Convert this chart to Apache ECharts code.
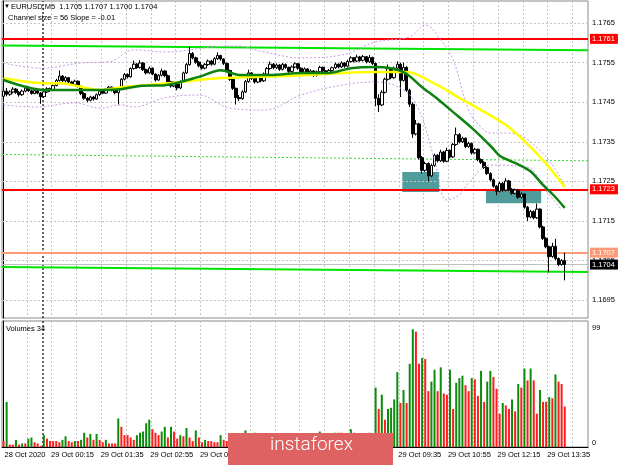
<!DOCTYPE html>
<html><head><meta charset="utf-8">
<script src="https://cdn.jsdelivr.net/npm/echarts@6/dist/echarts.min.js"></script>
<style>html,body{margin:0;padding:0;background:#fff}#c{width:620px;height:465px}</style>
</head><body><div id="c"></div>
<script>
// ---------- DATA ----------
const symbolTitle = 'EURUSD,M5';
const headerOHLC = '1.1705 1.1707 1.1700 1.1704';
const channelText = 'Channel size = 56 Slope = -0.01';
const volumeTitle = 'Volumes 34';
const firstBarUTC = Date.UTC(2020, 9, 28, 23, 0); // 28 Oct 2020 23:00, M5 bars
const emptyBarsRight = 7;
// [open, close, low, high]
const candles = [
[1.17465,1.17478,1.17452,1.17485],[1.17478,1.17470,1.17465,1.17486],[1.17470,1.17476,1.17466,1.17480],[1.17476,1.17483,1.17472,1.17488],
[1.17483,1.17475,1.17471,1.17486],[1.17475,1.17469,1.17464,1.17478],[1.17469,1.17478,1.17466,1.17482],[1.17478,1.17486,1.17475,1.17490],
[1.17486,1.17479,1.17476,1.17489],[1.17479,1.17472,1.17469,1.17482],[1.17472,1.17479,1.17470,1.17483],[1.17479,1.17473,1.17470,1.17481],
[1.17473,1.17464,1.17446,1.17476],[1.17464,1.17476,1.17461,1.17480],[1.17476,1.17484,1.17473,1.17488],[1.17484,1.17480,1.17476,1.17487],
[1.17480,1.17492,1.17478,1.17495],[1.17492,1.17505,1.17490,1.17509],[1.17505,1.17516,1.17502,1.17530],[1.17516,1.17504,1.17501,1.17519],
[1.17504,1.17512,1.17500,1.17516],[1.17512,1.17501,1.17498,1.17514],[1.17501,1.17495,1.17491,1.17504],[1.17495,1.17503,1.17492,1.17507],
[1.17503,1.17490,1.17487,1.17505],[1.17490,1.17472,1.17468,1.17492],[1.17472,1.17460,1.17456,1.17475],[1.17460,1.17455,1.17450,1.17463],
[1.17455,1.17463,1.17452,1.17466],[1.17463,1.17458,1.17454,1.17466],[1.17458,1.17469,1.17456,1.17472],[1.17469,1.17478,1.17466,1.17481],
[1.17478,1.17473,1.17470,1.17480],[1.17473,1.17483,1.17471,1.17486],[1.17483,1.17488,1.17480,1.17491],[1.17488,1.17480,1.17477,1.17490],
[1.17480,1.17474,1.17470,1.17482],[1.17474,1.17485,1.17444,1.17488],[1.17485,1.17508,1.17483,1.17511],[1.17508,1.17520,1.17505,1.17524],
[1.17520,1.17514,1.17510,1.17523],[1.17514,1.17535,1.17512,1.17538],[1.17535,1.17546,1.17532,1.17555],[1.17546,1.17538,1.17534,1.17549],
[1.17538,1.17549,1.17535,1.17556],[1.17549,1.17532,1.17529,1.17551],[1.17532,1.17524,1.17520,1.17535],[1.17524,1.17536,1.17521,1.17540],
[1.17536,1.17521,1.17518,1.17538],[1.17521,1.17506,1.17502,1.17523],[1.17506,1.17518,1.17504,1.17521],[1.17518,1.17529,1.17515,1.17535],
[1.17529,1.17517,1.17513,1.17531],[1.17517,1.17502,1.17499,1.17520],[1.17502,1.17491,1.17487,1.17504],[1.17491,1.17498,1.17488,1.17502],
[1.17498,1.17486,1.17480,1.17500],[1.17486,1.17502,1.17483,1.17505],[1.17502,1.17524,1.17500,1.17527],[1.17524,1.17545,1.17521,1.17549],
[1.17545,1.17573,1.17542,1.17590],[1.17573,1.17562,1.17558,1.17577],[1.17562,1.17551,1.17547,1.17565],[1.17551,1.17542,1.17538,1.17554],
[1.17542,1.17536,1.17532,1.17545],[1.17536,1.17545,1.17533,1.17549],[1.17545,1.17554,1.17542,1.17558],[1.17554,1.17546,1.17542,1.17557],
[1.17546,1.17560,1.17543,1.17564],[1.17560,1.17568,1.17557,1.17576],[1.17568,1.17559,1.17555,1.17570],[1.17559,1.17548,1.17544,1.17561],
[1.17548,1.17530,1.17526,1.17550],[1.17530,1.17508,1.17504,1.17532],[1.17508,1.17485,1.17481,1.17510],[1.17485,1.17462,1.17444,1.17487],
[1.17462,1.17459,1.17453,1.17468],[1.17459,1.17476,1.17456,1.17480],[1.17476,1.17502,1.17473,1.17506],[1.17502,1.17524,1.17499,1.17532],
[1.17524,1.17510,1.17506,1.17526],[1.17510,1.17501,1.17497,1.17513],[1.17501,1.17513,1.17498,1.17517],[1.17513,1.17504,1.17500,1.17516],
[1.17504,1.17521,1.17501,1.17525],[1.17521,1.17535,1.17518,1.17539],[1.17535,1.17546,1.17532,1.17553],[1.17546,1.17537,1.17533,1.17549],
[1.17537,1.17544,1.17534,1.17548],[1.17544,1.17533,1.17529,1.17546],[1.17533,1.17545,1.17530,1.17549],[1.17545,1.17538,1.17534,1.17548],
[1.17538,1.17528,1.17524,1.17540],[1.17528,1.17539,1.17525,1.17543],[1.17539,1.17547,1.17536,1.17551],[1.17547,1.17536,1.17532,1.17549],
[1.17536,1.17526,1.17522,1.17538],[1.17526,1.17534,1.17523,1.17538],[1.17534,1.17523,1.17519,1.17536],[1.17523,1.17529,1.17520,1.17533],
[1.17529,1.17518,1.17514,1.17531],[1.17518,1.17527,1.17515,1.17530],[1.17527,1.17538,1.17524,1.17542],[1.17538,1.17529,1.17525,1.17540],
[1.17529,1.17522,1.17518,1.17531],[1.17522,1.17530,1.17519,1.17534],[1.17530,1.17537,1.17527,1.17540],[1.17537,1.17546,1.17534,1.17550],
[1.17546,1.17539,1.17535,1.17548],[1.17539,1.17549,1.17536,1.17553],[1.17549,1.17541,1.17537,1.17551],[1.17541,1.17553,1.17538,1.17557],
[1.17553,1.17562,1.17550,1.17566],[1.17562,1.17554,1.17550,1.17564],[1.17554,1.17564,1.17551,1.17570],[1.17564,1.17556,1.17552,1.17567],
[1.17556,1.17565,1.17553,1.17569],[1.17565,1.17552,1.17548,1.17567],[1.17552,1.17563,1.17549,1.17569],[1.17563,1.17548,1.17544,1.17565],
[1.17548,1.17460,1.17440,1.17550],[1.17460,1.17443,1.17425,1.17470],[1.17443,1.17475,1.17440,1.17480],[1.17475,1.17508,1.17472,1.17512],
[1.17508,1.17535,1.17505,1.17545],[1.17535,1.17512,1.17508,1.17538],[1.17512,1.17536,1.17509,1.17540],[1.17536,1.17546,1.17533,1.17553],
[1.17546,1.17505,1.17463,1.17550],[1.17505,1.17538,1.17502,1.17550],[1.17538,1.17480,1.17476,1.17541],[1.17480,1.17445,1.17438,1.17484],
[1.17445,1.17370,1.17360,1.17450],[1.17370,1.17395,1.17366,1.17405],[1.17395,1.17310,1.17305,1.17398],[1.17310,1.17278,1.17270,1.17314],
[1.17278,1.17295,1.17274,1.17300],[1.17295,1.17264,1.17250,1.17298],[1.17264,1.17290,1.17261,1.17295],[1.17290,1.17316,1.17287,1.17320],
[1.17316,1.17302,1.17298,1.17319],[1.17302,1.17324,1.17299,1.17330],[1.17324,1.17301,1.17297,1.17327],[1.17301,1.17328,1.17298,1.17335],
[1.17328,1.17312,1.17308,1.17331],[1.17312,1.17343,1.17309,1.17347],[1.17343,1.17368,1.17340,1.17386],[1.17368,1.17350,1.17346,1.17372],
[1.17350,1.17359,1.17347,1.17363],[1.17359,1.17338,1.17334,1.17361],[1.17338,1.17346,1.17335,1.17350],[1.17346,1.17322,1.17318,1.17348],
[1.17322,1.17331,1.17319,1.17335],[1.17331,1.17305,1.17301,1.17333],[1.17305,1.17298,1.17294,1.17308],[1.17298,1.17285,1.17281,1.17301],
[1.17285,1.17270,1.17266,1.17288],[1.17270,1.17254,1.17250,1.17273],[1.17254,1.17238,1.17234,1.17257],[1.17238,1.17225,1.17215,1.17241],
[1.17225,1.17245,1.17222,1.17249],[1.17245,1.17228,1.17224,1.17248],[1.17228,1.17251,1.17225,1.17258],[1.17251,1.17230,1.17226,1.17254],
[1.17230,1.17220,1.17216,1.17233],[1.17220,1.17228,1.17217,1.17232],[1.17228,1.17210,1.17206,1.17231],[1.17210,1.17218,1.17207,1.17222],
[1.17218,1.17185,1.17181,1.17220],[1.17185,1.17160,1.17150,1.17188],[1.17160,1.17174,1.17157,1.17178],[1.17174,1.17158,1.17154,1.17177],
[1.17158,1.17180,1.17155,1.17194],[1.17180,1.17135,1.17131,1.17182],[1.17135,1.17106,1.17102,1.17138],[1.17106,1.17085,1.17081,1.17109],
[1.17085,1.17060,1.17020,1.17088],[1.17060,1.17086,1.17057,1.17095],[1.17086,1.17055,1.17051,1.17105],[1.17055,1.17040,1.17036,1.17058],
[1.17040,1.17050,1.17037,1.17054],[1.17050,1.17040,1.17000,1.17070]
];
const volumes = [
5,38,2,2,6,2,3,3,7,8,4,3,1,10,7,5,5,5,4,6,9,5,4,5,5,6,12,8,11,6,11,6,4,6,3,3,3,24,17,10,
10,8,6,10,12,13,20,23,15,12,10,13,17,8,17,13,7,10,9,16,8,5,14,8,4,6,5,5,4,4,10,6,
5,7,4,9,6,8,14,9,7,12,8,6,11,7,9,5,6,8,5,7,4,6,5,8,4,5,7,5,6,4,13,6,5,7,4,12,12,12,11,6,15,12,7,8,5,6,12,9,
50,32,44,23,32,33,40,63,37,48,37,70,99,97,70,75,74,47,55,65,47,67,45,44,65,32,54,58,60,52,47,58,57,43,64,38,55,64,59,49,
28,37,35,32,40,30,53,50,66,56,66,56,28,48,38,38,42,41,61,55,53,34
];
// moving averages (sparse points: [bar index, price])
const maGreen = [[0,1.17506],[13,1.17481],[31,1.17481],[38,1.17483],[44,1.17491],[52,1.17493],[63,1.17514],[70,1.17531],[76,1.17519],[86,1.17519],[96,1.17524],[105,1.17524],[112,1.17536],[120,1.17539],[129,1.17526],[135,1.17488],[140,1.17458],[145,1.17425],[151,1.17385],[157,1.17340],[160,1.17315],[163,1.17303],[166,1.17293],[170,1.17275],[174,1.17241],[178,1.17210],[181,1.17183]];
const maYellow = [[0,1.17511],[13,1.17498],[18,1.17498],[31,1.17481],[38,1.17488],[53,1.17498],[70,1.17511],[83,1.17514],[99,1.17519],[109,1.17524],[120,1.17526],[130,1.17526],[140,1.17493],[147,1.17461],[154,1.17430],[163,1.17387],[173,1.17312],[181,1.17236]];
const bandUpper = [[0,1.17549],[12,1.17536],[25,1.17549],[34,1.17552],[42,1.17582],[52,1.17577],[67,1.17589],[75,1.17592],[84,1.17577],[96,1.17562],[109,1.17569],[120,1.17602],[131,1.17615],[136,1.17645],[141,1.17607],[145,1.17557],[150,1.17430],[154,1.17387],[157,1.17372],[163,1.17372],[173,1.17329],[181,1.17241]];
const bandLower = [[0,1.17443],[10,1.17438],[23,1.17448],[31,1.17435],[38,1.17443],[42,1.17438],[52,1.17461],[63,1.17468],[73,1.17435],[84,1.17430],[96,1.17468],[109,1.17493],[120,1.17501],[129,1.17481],[134,1.17430],[139,1.17304],[143,1.17203],[147,1.17216],[150,1.17246],[157,1.17291],[169,1.17286],[174,1.17236],[180,1.17178]];
// regression channel (start / end of chart)
const channelUpper = [1.17593, 1.17581];
const channelMiddle = [1.17318, 1.17302];
const channelLower = [1.17034, 1.17021];
// horizontal levels
const levelPrices = [1.1761, 1.1723, 1.1707];
const levelLabels = ['1.1761', '1.1723', '1.1707'];
const bidPrice = 1.1704, bidLabel = '1.1704';
// highlighted zones: [fromBar, toBar, topPrice, bottomPrice]
const zones = [[128.6, 140.5, 1.17274, 1.17223], [155.6, 173.4, 1.17228, 1.17195]];
const priceTicks = [1.1695, 1.1705, 1.1715, 1.1725, 1.1735, 1.1745, 1.1755, 1.1765];
const volumeTicks = [0, 99];
const daySeparatorBar = 12.7;

// ---------- BUILD ----------
const MONTHS = ['Jan','Feb','Mar','Apr','May','Jun','Jul','Aug','Sep','Oct','Nov','Dec'];
const nCat = candles.length + emptyBarsRight;
const categories = [];
for (let i = 0; i < nCat; i++) {
  const d = new Date(firstBarUTC + i * 300000);
  const hh = String(d.getUTCHours()).padStart(2,'0'), mm = String(d.getUTCMinutes()).padStart(2,'0');
  categories.push(i === 0 ? d.getUTCDate() + ' ' + MONTHS[d.getUTCMonth()] + ' ' + d.getUTCFullYear()
                          : d.getUTCDate() + ' ' + MONTHS[d.getUTCMonth()] + ' ' + hh + ':' + mm);
}
const FONT = '"Liberation Sans", Arial, sans-serif';
const GRIDC = '#c4c4c4';
const priceMax = 1.177056, priceMin = 1.169050;
const xMin = -0.5, xMax = nCat - 0.5;
const splitFn = (i) => i > 0 && i % 8 === 0;
const green = '#0b8c0b', red = '#ff1c1c';

const chart = echarts.init(document.getElementById('c'), null, {renderer: 'canvas'});
const lbl = {fontFamily: FONT, fontSize: 7.5, color: '#000'};

const option = {
  animation: false,
  backgroundColor: '#fff',
  grid: [
    {left: 2, right: 32, top: 1, height: 317, show: true, borderColor: '#8a8a8a', borderWidth: 1},
    {left: 2, right: 32, top: 321, bottom: 18, show: true, borderColor: '#8a8a8a', borderWidth: 1}
  ],
  xAxis: [
    {type: 'category', gridIndex: 0, data: categories, boundaryGap: true,
     axisLine: {show: false}, axisTick: {show: false}, axisLabel: {show: false},
     splitLine: {show: true, interval: splitFn, lineStyle: {color: GRIDC, type: [2, 2], width: 1}}},
    {type: 'value', gridIndex: 0, min: xMin, max: xMax, show: false},
    {type: 'category', gridIndex: 1, data: categories, boundaryGap: true,
     axisLine: {show: true, lineStyle: {color: '#000'}}, axisTick: {show: false},
     axisLabel: {show: true, interval: (i) => i === 0 || (i >= 15 && (i - 15) % 16 === 0 && i < candles.length),
       align: 'left', margin: 4, padding: [0, 0, 0, 1], ...lbl},
     splitLine: {show: true, interval: splitFn, lineStyle: {color: GRIDC, type: [2, 2], width: 1}}},
    {type: 'value', gridIndex: 1, min: xMin, max: xMax, show: false}
  ],
  yAxis: [
    {type: 'value', gridIndex: 0, min: priceMin, max: priceMax, position: 'right',
     axisLine: {show: true, lineStyle: {color: '#000'}}, axisTick: {show: false}, axisLabel: {show: false}, splitLine: {show: false}},
    {type: 'value', gridIndex: 1, min: 0, max: 106, position: 'right',
     axisLine: {show: true, lineStyle: {color: '#000'}}, axisTick: {show: false}, axisLabel: {show: false}, splitLine: {show: false}}
  ],
  series: [
    // horizontal grid + price tick labels
    {type: 'line', xAxisIndex: 1, yAxisIndex: 0, data: [], silent: true, z: 1,
     markLine: {silent: true, symbol: 'none', precision: 6, animation: false,
       lineStyle: {color: GRIDC, type: [2, 2], width: 1},
       label: {show: true, position: 'end', distance: 4, formatter: (p) => Number(p.value).toFixed(4), ...lbl},
       data: priceTicks.map(v => ({yAxis: v}))}},
    // zones
    {type: 'line', xAxisIndex: 1, yAxisIndex: 0, data: [], silent: true, z: 2,
     markArea: {silent: true, itemStyle: {color: '#4e9c9c'},
       data: zones.map(z => [{coord: [z[0], z[2]]}, {coord: [z[1], z[3]]}])}},
    // day separator (both panes)
    {type: 'line', xAxisIndex: 1, yAxisIndex: 0, data: [], silent: true, z: 3,
     markLine: {silent: true, symbol: 'none', precision: 3, label: {show: false},
       lineStyle: {color: '#333', type: [2, 2], width: 1.5}, data: [{xAxis: daySeparatorBar}]}},
    {type: 'line', xAxisIndex: 3, yAxisIndex: 1, data: [], silent: true, z: 3,
     markLine: {silent: true, symbol: 'none', precision: 3, label: {show: false},
       lineStyle: {color: '#333', type: [2, 2], width: 1.5}, data: [{xAxis: daySeparatorBar}]}},
    // bid line
    {type: 'line', xAxisIndex: 1, yAxisIndex: 0, data: [], silent: true, z: 4,
     markLine: {silent: true, symbol: 'none', precision: 6, lineStyle: {color: '#c0c0c0', type: 'solid', width: 1},
       label: {show: true, position: 'end', distance: 2, formatter: bidLabel, backgroundColor: '#000', color: '#fff',
         padding: [1, 3, 1, 2], fontFamily: FONT, fontSize: 7.5},
       data: [{yAxis: bidPrice}]}},
    // channel
    {type: 'line', xAxisIndex: 1, yAxisIndex: 0, z: 5, symbol: 'none', silent: true,
     lineStyle: {color: '#00e400', width: 2}, data: [[xMin, channelUpper[0]], [xMax, channelUpper[1]]]},
    {type: 'line', xAxisIndex: 1, yAxisIndex: 0, z: 5, symbol: 'none', silent: true,
     lineStyle: {color: '#33dd33', width: 1, type: [2, 2]}, data: [[xMin, channelMiddle[0]], [xMax, channelMiddle[1]]]},
    {type: 'line', xAxisIndex: 1, yAxisIndex: 0, z: 5, symbol: 'none', silent: true,
     lineStyle: {color: '#00e400', width: 2}, data: [[xMin, channelLower[0]], [xMax, channelLower[1]]]},
    // candles
    {type: 'candlestick', xAxisIndex: 0, yAxisIndex: 0, z: 6, data: candles, barWidth: 3, silent: true,
     itemStyle: {color: '#fff', color0: '#000', borderColor: '#000', borderColor0: '#000', borderWidth: 1}},
    // bands
    {type: 'line', xAxisIndex: 1, yAxisIndex: 0, z: 7, symbol: 'none', silent: true, smooth: 0.4,
     lineStyle: {color: '#c69ae6', width: 1, type: [2, 2]}, data: bandUpper},
    {type: 'line', xAxisIndex: 1, yAxisIndex: 0, z: 7, symbol: 'none', silent: true, smooth: 0.4,
     lineStyle: {color: '#c69ae6', width: 1, type: [2, 2]}, data: bandLower},
    // moving averages
    {type: 'line', xAxisIndex: 1, yAxisIndex: 0, z: 8, symbol: 'none', silent: true, smooth: 0.3,
     lineStyle: {color: '#ffff00', width: 2.5}, data: maYellow},
    {type: 'line', xAxisIndex: 1, yAxisIndex: 0, z: 9, symbol: 'none', silent: true, smooth: 0.3,
     lineStyle: {color: '#0e820e', width: 2.5}, data: maGreen},
    // horizontal levels with price boxes
    {type: 'line', xAxisIndex: 1, yAxisIndex: 0, data: [], silent: true, z: 10,
     markLine: {silent: true, symbol: 'none', precision: 6,
       data: levelPrices.map((v, i) => {
         const c = i < 2 ? '#ff0000' : '#ff9a78';
         return {yAxis: v, lineStyle: {color: c, width: 2, type: 'solid'},
           label: {show: true, position: 'end', distance: 2, formatter: levelLabels[i], backgroundColor: c,
             color: '#fff', padding: [1, 3, 1, 2], fontFamily: FONT, fontSize: 7.5}};
       })}},
    // volumes
    {type: 'bar', xAxisIndex: 2, yAxisIndex: 1, barWidth: 2, z: 5, silent: true,
     data: volumes.map((v, i) => ({value: v, itemStyle: {color: (i > 0 && v > volumes[i - 1]) ? green : red}}))},
    {type: 'line', xAxisIndex: 3, yAxisIndex: 1, data: [], silent: true, z: 6,
     markLine: {silent: true, symbol: 'none', precision: 2, lineStyle: {color: 'rgba(0,0,0,0)', width: 1},
       label: {show: true, position: 'end', distance: 4, ...lbl},
       data: volumeTicks.map(v => ({yAxis: v, label: {formatter: String(v), offset: v === 0 ? [0, -4] : [0, -1]}}))}}
  ],
  graphic: [
    {type: 'text', left: 4, top: 3, z: 100, style: {text: '\u25BC', font: '6px ' + FONT, fill: '#000'}},
    {type: 'text', left: 11, top: 3, z: 100, style: {text: symbolTitle + '  ' + headerOHLC, font: '7.5px ' + FONT, fill: '#000'}},
    {type: 'text', left: 8, top: 14, z: 100, style: {text: channelText, font: '7.5px ' + FONT, fill: '#000'}},
    {type: 'text', left: 6, top: 325, z: 100, style: {text: volumeTitle, font: '7.5px ' + FONT, fill: '#000'}},
    {type: 'rect', left: 228, top: 433, z: 100, shape: {width: 165, height: 32}, style: {fill: '#df6262'}},
    {type: 'text', left: 270, top: 436, z: 101, style: {text: 'instaforex', font: '300 19px Roboto, "Open Sans", sans-serif', fill: '#fff'}}
  ]
};
chart.setOption(option);
</script>
</body></html>
